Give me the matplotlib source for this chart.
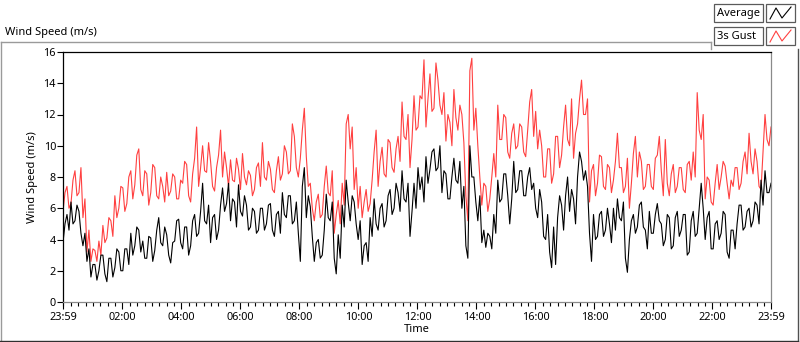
import numpy as np
import matplotlib
matplotlib.use("Agg")
import matplotlib.pyplot as plt
from matplotlib.lines import Line2D
from matplotlib.patches import Rectangle
from matplotlib.ticker import FixedLocator, FixedFormatter

plt.rcParams['font.family'] = ['Noto Sans', 'DejaVu Sans']

# ---- data (m/s) ----
# every ~8 minutes the trace swings between two levels; both are read
gust = [
    5.8, 7.4, 6.3, 8.4, 7.0, 5.4, 3.2, 2.6, 3.3, 3.9,
    4.9, 4.1, 5.2, 6.8, 6.0, 7.3, 6.3, 8.4, 7.5, 9.8,
    6.8, 8.2, 7.0, 8.6, 6.6, 7.4, 8.3, 7.1, 8.0, 6.6,
    7.6, 8.8, 6.4, 9.2, 7.4, 10.0, 8.3, 9.0, 7.1, 9.4,
    8.0, 8.6, 9.1, 7.7, 8.5, 9.5, 7.5, 8.1, 7.2, 8.9,
    10.2, 7.8, 8.5, 7.0, 9.3, 8.2, 9.6, 8.4, 10.6, 8.0,
    11.0, 9.3, 7.6, 5.2, 6.9, 5.6, 8.7, 6.8, 4.4, 6.5,
    7.6, 11.4, 9.8, 7.2, 6.0, 5.4, 7.2, 6.3, 9.6, 7.4,
    9.9, 8.0, 10.2, 8.3, 10.6, 12.8, 10.4, 8.6, 13.2, 11.2,
    13.0, 11.2, 14.6, 12.4, 14.2, 12.0, 10.3, 11.5, 13.6, 11.0,
    12.0, 6.8, 14.8, 11.0, 10.0, 6.2, 7.4, 6.6, 9.5, 12.6,
    10.4, 11.8, 9.2, 11.4, 10.0, 11.2, 9.3, 12.8, 10.6, 9.8,
    10.0, 8.0, 9.8, 8.2, 10.6, 9.4, 12.6, 10.0, 9.2, 11.4,
    14.2, 12.0, 6.4, 8.8, 7.6, 9.3, 7.2, 8.6, 7.8, 10.8,
    8.6, 7.4, 6.0, 9.5, 8.0, 9.0, 7.4, 8.8, 7.2, 9.4,
    8.4, 10.4, 6.8, 8.8, 7.4, 8.6, 7.0, 9.0, 9.6, 13.4,
    10.4, 6.6, 7.8, 6.2, 8.8, 8.0, 8.7, 6.6, 7.4, 8.6,
    7.6, 9.6, 10.8, 8.2, 9.0, 7.2, 12.0, 10.0,
]
gust_alt = [
    7.0, 6.0, 7.8, 6.8, 8.6, 6.6, 4.6, 3.4, 2.6, 3.0,
    3.8, 5.4, 4.2, 5.4, 7.4, 5.8, 8.0, 6.6, 9.4, 7.2,
    8.4, 6.2, 8.8, 6.8, 8.0, 6.4, 6.8, 8.2, 6.6, 7.8,
    9.0, 6.8, 8.2, 11.2, 8.6, 8.4, 10.2, 7.4, 8.6, 11.0,
    9.6, 7.4, 7.8, 9.2, 7.2, 8.0, 8.4, 6.8, 8.6, 7.4,
    8.0, 9.0, 7.2, 8.4, 7.8, 10.0, 8.2, 11.4, 8.6, 9.2,
    12.4, 7.4, 6.0, 6.4, 5.4, 7.4, 7.0, 8.4, 5.6, 5.0,
    6.2, 12.0, 11.2, 8.6, 7.4, 6.4, 5.8, 7.8, 11.0, 9.0,
    8.2, 10.4, 8.6, 9.8, 9.0, 10.6, 12.0, 10.4, 11.0, 13.2,
    15.5, 13.0, 12.2, 15.3, 12.6, 13.4, 12.0, 10.0, 11.8, 12.6,
    10.2, 5.2, 15.6, 12.4, 8.0, 7.6, 5.8, 8.0, 8.0, 10.4,
    12.0, 9.6, 10.8, 9.8, 11.4, 9.6, 11.0, 13.6, 12.2, 11.0,
    8.0, 9.8, 7.6, 10.6, 8.6, 11.2, 10.4, 13.0, 10.8, 13.0,
    12.0, 13.0, 8.4, 6.8, 9.4, 7.4, 8.8, 7.0, 9.0, 8.6,
    7.0, 9.2, 7.6, 10.6, 9.6, 7.2, 8.8, 7.4, 9.2, 10.6,
    6.8, 7.6, 8.2, 7.0, 8.6, 7.2, 8.8, 7.8, 8.0, 11.0,
    12.0, 8.0, 6.4, 7.6, 7.2, 9.0, 7.6, 7.8, 8.6, 7.2,
    9.0, 8.2, 9.0, 9.8, 7.4, 9.6, 10.4, 11.2,
]
average = [
    3.8, 5.6, 6.4, 5.2, 5.8, 3.6, 2.6, 1.6, 2.4, 2.0,
    3.0, 1.3, 2.8, 2.2, 3.2, 2.0, 3.4, 4.4, 3.6, 4.6,
    3.9, 2.8, 4.1, 3.3, 5.4, 3.6, 4.3, 2.5, 3.9, 5.3,
    3.4, 4.8, 3.6, 5.6, 4.4, 7.6, 5.0, 3.8, 5.6, 4.6,
    7.3, 6.3, 5.2, 6.4, 7.5, 5.5, 6.2, 4.8, 5.8, 4.6,
    6.0, 5.0, 6.3, 4.2, 5.8, 7.0, 5.4, 6.8, 5.2, 4.4,
    7.4, 5.4, 6.1, 2.6, 4.0, 3.0, 6.9, 5.2, 2.8, 4.3,
    6.2, 7.8, 5.2, 6.4, 4.0, 2.4, 3.8, 5.4, 6.6, 4.6,
    6.3, 5.2, 7.2, 6.0, 7.0, 8.4, 6.4, 4.2, 7.6, 8.6,
    8.0, 9.3, 8.5, 9.8, 8.6, 7.0, 8.2, 6.6, 9.2, 7.6,
    6.0, 3.6, 10.0, 8.0, 5.2, 3.8, 3.5, 4.2, 5.6, 7.8,
    6.6, 8.2, 5.0, 9.0, 7.2, 8.4, 6.8, 8.6, 7.6, 5.4,
    6.4, 4.0, 3.2, 4.8, 5.4, 6.2, 6.8, 5.8, 6.6, 8.0,
    9.0, 8.4, 4.4, 5.6, 4.2, 5.8, 4.6, 5.0, 6.0, 6.6,
    5.2, 2.8, 4.0, 5.6, 4.8, 6.4, 4.6, 5.8, 4.4, 6.3,
    5.0, 4.0, 5.4, 3.6, 5.8, 4.6, 5.6, 3.2, 5.8, 4.4,
    7.6, 4.0, 5.8, 3.4, 5.2, 4.4, 5.6, 2.8, 4.6, 5.0,
    6.2, 4.8, 6.0, 5.2, 6.2, 7.8, 8.4, 7.0,
]
average_alt = [
    5.0, 4.6, 5.0, 6.2, 4.4, 4.4, 3.4, 2.4, 1.4, 3.0,
    1.8, 2.8, 1.6, 3.4, 2.0, 3.4, 2.4, 3.0, 4.8, 3.2,
    2.8, 4.2, 2.6, 4.6, 3.8, 4.8, 3.0, 3.8, 5.2, 3.8,
    4.8, 3.0, 5.2, 4.2, 5.8, 5.2, 6.2, 5.4, 4.0, 6.2,
    5.8, 7.6, 6.6, 4.8, 5.8, 6.8, 4.6, 6.0, 4.4, 6.0,
    4.6, 6.2, 4.6, 5.6, 4.4, 5.6, 6.8, 5.0, 6.4, 2.6,
    8.6, 6.8, 4.2, 3.8, 2.8, 4.6, 5.4, 6.4, 1.8, 2.8,
    4.8, 6.4, 6.8, 5.0, 5.2, 3.6, 2.6, 4.2, 5.0, 6.0,
    4.8, 6.8, 5.6, 7.6, 5.8, 6.6, 7.6, 5.8, 6.0, 7.2,
    6.4, 7.6, 9.6, 8.4, 10.0, 8.4, 6.6, 8.0, 7.8, 9.0,
    7.4, 2.8, 8.0, 6.4, 6.8, 4.6, 4.4, 3.4, 4.4, 6.4,
    8.2, 6.8, 6.6, 7.0, 8.4, 6.8, 8.0, 7.2, 6.0, 7.2,
    4.2, 5.6, 2.2, 2.4, 6.8, 4.6, 8.0, 7.2, 5.0, 9.6,
    7.8, 7.4, 2.6, 4.0, 5.6, 4.2, 6.0, 3.8, 4.6, 5.4,
    6.4, 1.9, 5.2, 4.4, 6.2, 4.8, 3.4, 4.4, 5.6, 5.2,
    3.6, 5.6, 3.4, 5.4, 4.2, 5.6, 3.0, 5.2, 4.2, 6.0,
    6.0, 5.4, 3.4, 5.0, 4.0, 5.8, 3.2, 4.6, 3.4, 6.2,
    4.6, 5.8, 4.8, 6.4, 5.0, 6.2, 7.0, 7.6,
]

n = len(gust)
gust_trace = np.column_stack([gust, gust_alt]).ravel()
average_trace = np.column_stack([average, average_alt]).ravel()
minutes = np.linspace(0, 1440, 2 * n)  # 23:59 -> 23:59

major_pos = [0, 121, 241, 361, 481, 601, 721, 841, 961, 1081, 1201, 1321, 1440]
major_lbl = ['23:59', '02:00', '04:00', '06:00', '08:00', '10:00', '12:00',
             '14:00', '16:00', '18:00', '20:00', '22:00', '23:59']
minor_pos = list(np.arange(1, 1440, 15))

W, H = 800, 342
fig = plt.figure(figsize=(W / 100, H / 100), dpi=100)
ax = fig.add_axes([63 / W, 40 / H, 708 / W, 250 / H])

ax.plot(minutes, gust_trace, color='#ff4040', lw=0.8)
ax.plot(minutes, average_trace, color='black', lw=0.8)

ax.set_xlim(0, 1440)
ax.set_ylim(0, 16)
ax.set_yticks(range(0, 17, 2))
ax.xaxis.set_major_locator(FixedLocator(major_pos))
ax.xaxis.set_major_formatter(FixedFormatter(major_lbl))
ax.xaxis.set_minor_locator(FixedLocator(minor_pos))
ax.tick_params(axis='both', labelsize=7.8, colors='black', width=0.8)
ax.tick_params(axis='x', which='major', length=5, pad=2)
ax.tick_params(axis='x', which='minor', length=3, width=0.8)
ax.tick_params(axis='y', length=4, pad=1)

for s in ['top', 'left']:
    ax.spines[s].set_color('black')
for s in ['bottom', 'right']:
    ax.spines[s].set_color('#8a8a8a')
for s in ax.spines.values():
    s.set_linewidth(0.9)

ax.set_xlabel('Time', fontsize=8, labelpad=1)
ax.set_ylabel('Wind Speed (m/s)', fontsize=8, labelpad=4)

# ---- surrounding frame, caption, legend (pixel coords) ----
def px(x, y):
    return x / W, 1 - y / H

def seg(x0, y0, x1, y1, color, lw=1.0):
    (a, b), (c, d) = px(x0, y0), px(x1, y1)
    fig.add_artist(Line2D([a, c], [b, d], color=color, lw=lw, transform=fig.transFigure))

seg(0.5, 42, 711, 42, '#9a9a9a')
seg(0.5, 42, 0.5, 342, '#9a9a9a')
seg(711, 42, 711, 49, '#9a9a9a')
seg(797.5, 49, 797.5, 341, '#505050')
seg(0, 340.5, 798, 340.5, '#303030')

fig.text(5 / W, 1 - 32 / H, 'Wind Speed (m/s)', fontsize=8, va='center', ha='left')

def legend_row(y, label, color):
    x, y0 = px(714, y + 18)
    fig.add_artist(Rectangle((x, y0), 49 / W, 18 / H, transform=fig.transFigure,
                             facecolor='white', edgecolor='#5a5a5a', lw=0.9))
    fig.text(717 / W, 1 - (y + 9.5) / H, label, fontsize=8, va='center', ha='left')
    x, y0 = px(766, y + 18)
    fig.add_artist(Rectangle((x, y0), 29 / W, 18 / H, transform=fig.transFigure,
                             facecolor='white', edgecolor='#5a5a5a', lw=0.9))
    xs = [770, 776, 782, 791]
    ys = [y + 15, y + 4, y + 14, y + 3]
    fig.add_artist(Line2D([v / W for v in xs], [1 - v / H for v in ys], color=color,
                          lw=0.8, transform=fig.transFigure))

legend_row(4, 'Average', 'black')
legend_row(27, '3s Gust', '#ff4040')

fig.savefig('out.png', dpi=100)
